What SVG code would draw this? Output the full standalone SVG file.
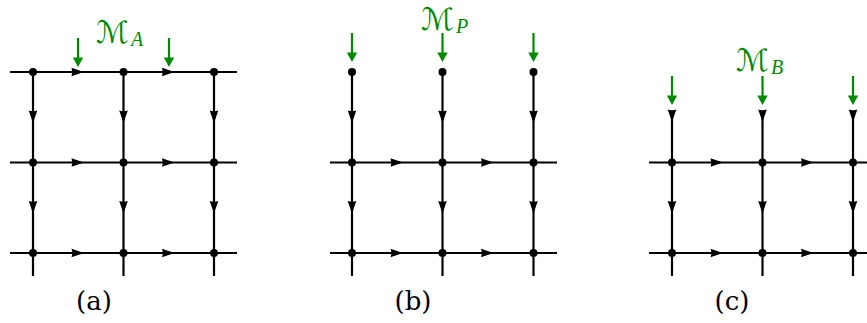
<svg xmlns="http://www.w3.org/2000/svg" width="867" height="323" viewBox="0 0 867 323">
<style>
.ln{stroke:#000;stroke-width:2.2;fill:none}
.gl{stroke:#008a00;stroke-width:2.2;fill:none}
.dot{fill:#000}
.ah{fill:#000}
.gh{fill:#008a00}
.cap{font-family:"DejaVu Serif",serif;font-size:26px;fill:#000;text-anchor:middle}
.mm{font-family:"DejaVu Sans",sans-serif;font-size:31px;fill:#008a00}
.sub{font-family:"Liberation Serif",serif;font-size:20px;fill:#008a00;font-style:italic}
</style>
<defs>
<path id="ar" d="M-12.5,-4.3 L0,0 L-12.5,4.3 Q-11,0 -12.5,-4.3 z"/>
<path id="ad" d="M-4.3,-12.5 L0,0 L4.3,-12.5 Q0,-11 -4.3,-12.5 z"/>
<path id="gd" d="M-5.2,-9.5 L0,0 L5.2,-9.5 z"/>
</defs>
<g id="connectors">
<g id="edges-a">
<path class="ln" d="M10,72H237M10,162.5H237M10,253H237M33,72V276M123.5,72V276M214,72V276"/>
<use href="#ar" class="ah" x="84" y="72"/><use href="#ar" class="ah" x="174.5" y="72"/>
<use href="#ar" class="ah" x="84" y="162.5"/><use href="#ar" class="ah" x="174.5" y="162.5"/>
<use href="#ar" class="ah" x="84" y="253"/><use href="#ar" class="ah" x="174.5" y="253"/>
<use href="#ad" class="ah" x="33" y="123"/><use href="#ad" class="ah" x="123.5" y="123"/><use href="#ad" class="ah" x="214" y="123"/>
<use href="#ad" class="ah" x="33" y="213.5"/><use href="#ad" class="ah" x="123.5" y="213.5"/><use href="#ad" class="ah" x="214" y="213.5"/>
<path class="gl" d="M78,38V60M169,38V60"/>
<use href="#gd" class="gh" x="78" y="67"/><use href="#gd" class="gh" x="169" y="67"/>
</g>
<g id="edges-b">
<path class="ln" d="M330,162.5H557M330,253H557M352,72V276M442.5,72V276M533.5,72V276"/>
<use href="#ar" class="ah" x="403" y="162.5"/><use href="#ar" class="ah" x="493.5" y="162.5"/>
<use href="#ar" class="ah" x="403" y="253"/><use href="#ar" class="ah" x="493.5" y="253"/>
<use href="#ad" class="ah" x="352" y="123"/><use href="#ad" class="ah" x="442.5" y="123"/><use href="#ad" class="ah" x="533.5" y="123"/>
<use href="#ad" class="ah" x="352" y="213.5"/><use href="#ad" class="ah" x="442.5" y="213.5"/><use href="#ad" class="ah" x="533.5" y="213.5"/>
<path class="gl" d="M352,33V55M442.5,33V55M533.5,33V55"/>
<use href="#gd" class="gh" x="352" y="62"/><use href="#gd" class="gh" x="442.5" y="62"/><use href="#gd" class="gh" x="533.5" y="62"/>
</g>
<g id="edges-c">
<path class="ln" d="M649,162.5H876M649,253H876M672,111V276M762.5,111V276M853,111V276"/>
<use href="#ar" class="ah" x="723" y="162.5"/><use href="#ar" class="ah" x="813.5" y="162.5"/>
<use href="#ar" class="ah" x="723" y="253"/><use href="#ar" class="ah" x="813.5" y="253"/>
<use href="#ad" class="ah" x="672" y="122"/><use href="#ad" class="ah" x="762.5" y="122"/><use href="#ad" class="ah" x="853" y="122"/>
<use href="#ad" class="ah" x="672" y="213.5"/><use href="#ad" class="ah" x="762.5" y="213.5"/><use href="#ad" class="ah" x="853" y="213.5"/>
<path class="gl" d="M672,76V98M762.5,76V98M853,76V98"/>
<use href="#gd" class="gh" x="672" y="105"/><use href="#gd" class="gh" x="762.5" y="105"/><use href="#gd" class="gh" x="853" y="105"/>
</g>
</g>
<g id="nodes-a">
<circle class="dot" cx="33" cy="72" r="4"/><circle class="dot" cx="123.5" cy="72" r="4"/><circle class="dot" cx="214" cy="72" r="4"/>
<circle class="dot" cx="33" cy="162.5" r="4"/><circle class="dot" cx="123.5" cy="162.5" r="4"/><circle class="dot" cx="214" cy="162.5" r="4"/>
<circle class="dot" cx="33" cy="253" r="4"/><circle class="dot" cx="123.5" cy="253" r="4"/><circle class="dot" cx="214" cy="253" r="4"/>
</g>
<g id="nodes-b">
<circle class="dot" cx="352" cy="72" r="4"/><circle class="dot" cx="442.5" cy="72" r="4"/><circle class="dot" cx="533.5" cy="72" r="4"/>
<circle class="dot" cx="352" cy="162.5" r="4"/><circle class="dot" cx="442.5" cy="162.5" r="4"/><circle class="dot" cx="533.5" cy="162.5" r="4"/>
<circle class="dot" cx="352" cy="253" r="4"/><circle class="dot" cx="442.5" cy="253" r="4"/><circle class="dot" cx="533.5" cy="253" r="4"/>
</g>
<g id="nodes-c">
<circle class="dot" cx="672" cy="162.5" r="4"/><circle class="dot" cx="762.5" cy="162.5" r="4"/><circle class="dot" cx="853" cy="162.5" r="4"/>
<circle class="dot" cx="672" cy="253" r="4"/><circle class="dot" cx="762.5" cy="253" r="4"/><circle class="dot" cx="853" cy="253" r="4"/>
</g>
<g id="label-MA"><text class="mm" x="96" y="43" textLength="33" lengthAdjust="spacingAndGlyphs">ℳ</text><text class="sub" x="131" y="46">A</text></g>
<g id="label-MP"><text class="mm" x="421" y="30" textLength="33" lengthAdjust="spacingAndGlyphs">ℳ</text><text class="sub" x="456" y="33">P</text></g>
<g id="label-MB"><text class="mm" x="736" y="71" textLength="33" lengthAdjust="spacingAndGlyphs">ℳ</text><text class="sub" x="771" y="74">B</text></g>
<g id="caption-a"><text class="cap" x="94" y="310">(a)</text></g>
<g id="caption-b"><text class="cap" x="413" y="310">(b)</text></g>
<g id="caption-c"><text class="cap" x="732" y="310">(c)</text></g>
</svg>
